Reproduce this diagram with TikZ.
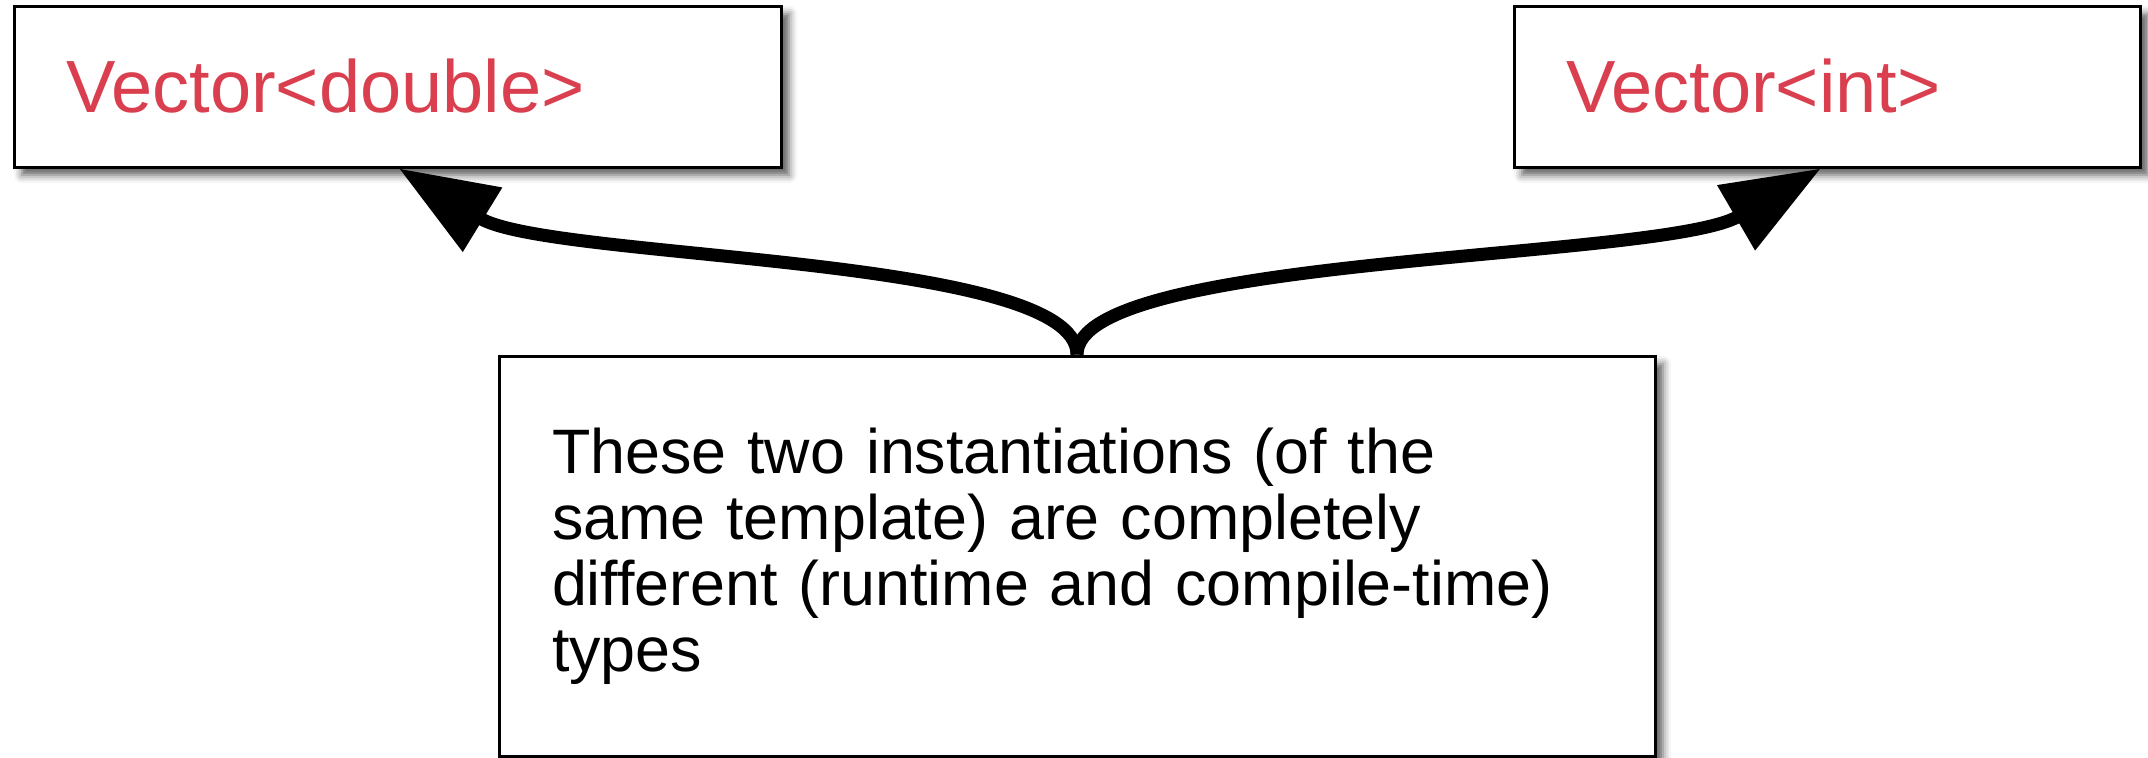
\documentclass[tikz,border=0pt]{standalone}
\usepackage{fontspec}
\setmainfont{Liberation Sans}
\usetikzlibrary{arrows.meta,shadows.blur,calc}
\definecolor{vred}{RGB}{217,63,78}
\tikzset{
  box/.style={draw=black, line width=1.5pt, fill=white, rectangle,
    blur shadow={shadow xshift=4pt, shadow yshift=-4pt, shadow blur radius=4pt, shadow opacity=65},
    align=left, inner ysep=0pt},
  typelabel/.style={box, text=vred, font=\fontsize{37}{40}\selectfont,
    inner xsep=26pt, minimum height=80.5pt},
  conn/.style={line width=6.5pt, -{Triangle[length=49pt, width=36pt]}}
}
\begin{document}
\begin{tikzpicture}[x=0.5pt, y=0.5pt]
\useasboundingbox (0,0) rectangle (2148,-757);
\node[typelabel, text width=331.5pt] (l) at (397.5,-86.5) {Vector<double>};
\node[typelabel, text width=261pt] (r) at (1827,-86.5) {Vector<int>};
\node[box, font=\fontsize{31.4}{33}\selectfont, inner xsep=26.5pt,
  text width=525pt, minimum height=200pt] (b) at (1077,-556)
  {These two instantiations (of the\\same template) are completely\\different (runtime and compile-time)\\types};
\coordinate (lt) at ($(l.south west)!0.502!(l.south east)$);
\coordinate (rt) at ($(r.south west)!0.49!(r.south east)$);
\draw[conn] (b.north) .. controls ($(b.north)+(0,100)$) and ($(lt)+(150,-92)$) .. (lt);
\draw[conn] (b.north) .. controls ($(b.north)+(0,100)$) and ($(rt)+(-158,-92)$) .. (rt);
\end{tikzpicture}
\end{document}
